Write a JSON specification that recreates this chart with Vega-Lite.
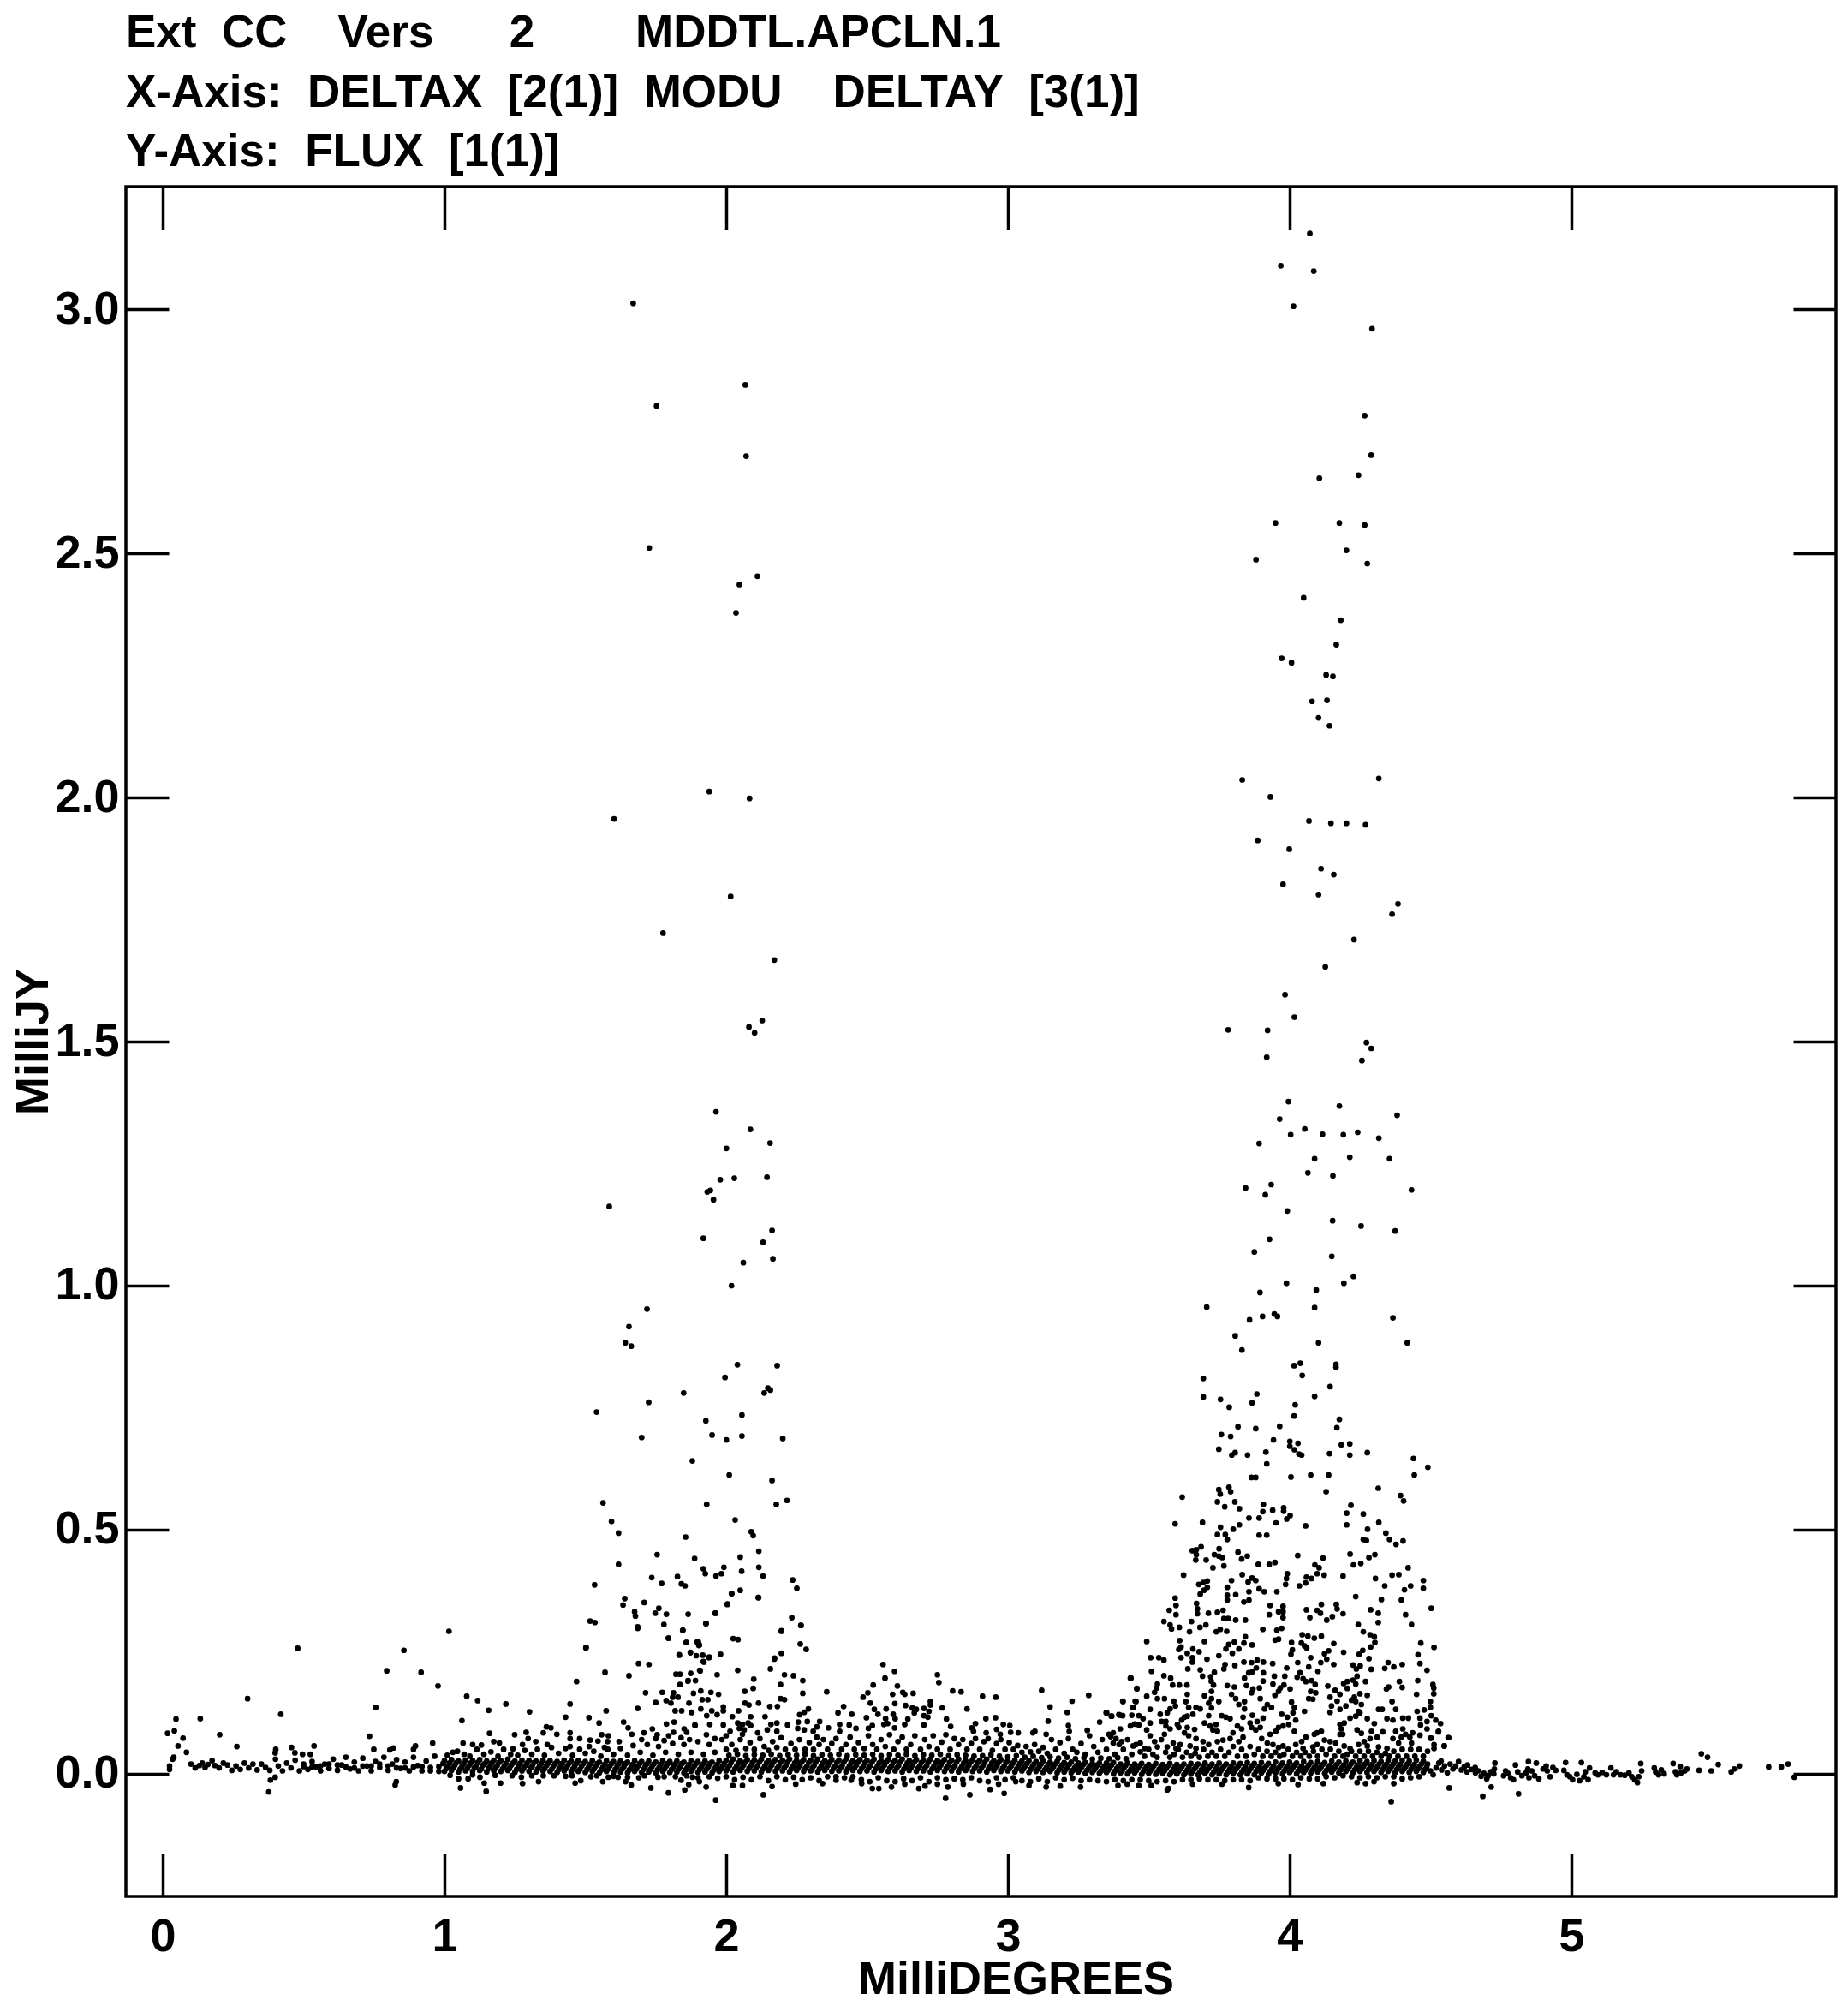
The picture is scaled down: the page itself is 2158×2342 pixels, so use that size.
{"$schema":"https://vega.github.io/schema/vega-lite/v6.json","autosize":"none","padding":{"left":147,"top":218,"right":14,"bottom":128},"width":1997,"height":1996,"background":"white","config":{"view":{"stroke":"black","strokeWidth":3.5},"font":"Liberation Sans"},"title":{"text":["Ext\u00a0\u00a0CC\u00a0\u00a0\u00a0\u00a0Vers\u00a0\u00a0\u00a0\u00a0\u00a0\u00a02\u00a0\u00a0\u00a0\u00a0\u00a0\u00a0\u00a0\u00a0MDDTL.APCLN.1","X-Axis:\u00a0\u00a0DELTAX\u00a0\u00a0[2(1)]\u00a0\u00a0MODU\u00a0\u00a0\u00a0\u00a0DELTAY\u00a0\u00a0[3(1)]","Y-Axis:\u00a0\u00a0FLUX\u00a0\u00a0[1(1)]"],"anchor":"start","frame":"group","font":"Liberation Sans","fontWeight":"bold","fontSize":53,"lineHeight":69.5,"color":"black","offset":-31,"baseline":"alphabetic"},"layer":[{"data":{"name":"pts","values":[
{"x":1.67,"y":3.012},{"x":2.068,"y":2.845},{"x":1.753,"y":2.802},{"x":2.071,"y":2.699},{"x":1.727,"y":2.511},{"x":2.111,"y":2.453},{"x":2.047,"y":2.436},{"x":2.035,"y":2.378},{"x":1.94,"y":2.012},{"x":2.083,"y":1.998},{"x":1.602,"y":1.956},{"x":2.016,"y":1.797},{"x":1.776,"y":1.722},{"x":2.171,"y":1.667},
{"x":2.128,"y":1.543},{"x":2.081,"y":1.53},{"x":2.101,"y":1.518},{"x":1.964,"y":1.356},{"x":2.086,"y":1.32},{"x":2.156,"y":1.292},{"x":2.001,"y":1.281},{"x":1.979,"y":1.217},{"x":2.029,"y":1.22},{"x":2.145,"y":1.222},{"x":1.933,"y":1.192},{"x":1.944,"y":1.195},{"x":1.955,"y":1.176},{"x":1.585,"y":1.162},{"x":1.919,"y":1.097},{"x":2.163,"y":1.113},{"x":2.131,"y":1.089},{"x":2.166,"y":1.055},{"x":2.061,"y":1.047},{"x":2.019,"y":1.0},{"x":1.719,"y":0.952},{"x":1.655,"y":0.916},{"x":1.642,"y":0.883},{"x":1.663,"y":0.876},{"x":2.04,"y":0.838},{"x":2.181,"y":0.836},{"x":1.996,"y":0.812},{"x":1.849,"y":0.78},{"x":1.725,"y":0.761},{"x":2.135,"y":0.78},{"x":2.148,"y":0.79},{"x":2.157,"y":0.786},{"x":1.54,"y":0.741},{"x":1.928,"y":0.723},{"x":2.056,"y":0.735},{"x":1.95,"y":0.694},{"x":2.001,"y":0.684},{"x":2.056,"y":0.692},{"x":1.7,"y":0.689},{"x":2.201,"y":0.687},{"x":1.88,"y":0.641},{"x":2.011,"y":0.612},{"x":2.163,"y":0.601},{"x":1.563,"y":0.555},{"x":1.931,"y":0.552},{"x":2.178,"y":0.552},{"x":2.216,"y":0.56},{"x":1.593,"y":0.517},{"x":2.032,"y":0.52},{"x":1.618,"y":0.493},{"x":2.089,"y":0.496},{"x":2.096,"y":0.488},{"x":1.856,"y":0.485},{"x":1.618,"y":0.429},{"x":1.755,"y":0.449},{"x":1.888,"y":0.441},{"x":2.05,"y":0.444},{"x":2.116,"y":0.456},{"x":2.116,"y":0.423},{"x":1.992,"y":0.423},{"x":1.919,"y":0.42},{"x":1.926,"y":0.41},{"x":1.983,"y":0.41},{"x":1.964,"y":0.405},{"x":2.055,"y":0.415},{"x":2.131,"y":0.405},{"x":1.736,"y":0.402},{"x":1.827,"y":0.404},{"x":1.771,"y":0.39},{"x":1.841,"y":0.389},{"x":1.854,"y":0.385},{"x":1.533,"y":0.387},{"x":2.236,"y":0.397},{"x":2.251,"y":0.38},{"x":2.05,"y":0.376},{"x":2.019,"y":0.369},{"x":2.114,"y":0.361},{"x":1.64,"y":0.359},{"x":1.634,"y":0.346},{"x":1.709,"y":0.351},{"x":2.004,"y":0.347},{"x":1.675,"y":0.332},{"x":1.678,"y":0.323},{"x":1.761,"y":0.339},{"x":1.748,"y":0.329},{"x":1.788,"y":0.327},{"x":1.865,"y":0.327},{"x":1.961,"y":0.329},{"x":2.233,"y":0.32},{"x":1.517,"y":0.313},{"x":1.534,"y":0.31},{"x":1.686,"y":0.301},{"x":1.779,"y":0.306},{"x":1.928,"y":0.308},{"x":2.266,"y":0.304},{"x":1.846,"y":0.294},{"x":2.196,"y":0.292},{"x":1.795,"y":0.278},{"x":2.025,"y":0.277},{"x":2.042,"y":0.275},{"x":1.858,"y":0.269},{"x":1.897,"y":0.27},{"x":1.903,"y":0.263},{"x":2.263,"y":0.266},{"x":2.284,"y":0.255},{"x":1.502,"y":0.258},{"x":1.833,"y":0.244},{"x":1.873,"y":0.248},{"x":1.894,"y":0.242},{"x":1.917,"y":0.243},{"x":1.94,"y":0.239},{"x":1.98,"y":0.245},{"x":2.171,"y":0.235},
{"x":4.072,"y":3.155},{"x":3.969,"y":3.089},{"x":4.086,"y":3.078},{"x":4.014,"y":3.006},{"x":4.293,"y":2.96},{"x":4.267,"y":2.782},{"x":4.29,"y":2.701},{"x":4.245,"y":2.66},{"x":4.106,"y":2.654},{"x":3.95,"y":2.562},{"x":4.177,"y":2.562},{"x":4.267,"y":2.558},{"x":4.202,"y":2.506},{"x":3.881,"y":2.487},{"x":4.276,"y":2.479},{"x":4.05,"y":2.409},{"x":4.182,"y":2.363},{"x":4.166,"y":2.313},{"x":3.972,"y":2.285},{"x":4.007,"y":2.276},{"x":4.13,"y":2.251},{"x":4.154,"y":2.248},{"x":4.08,"y":2.197},{"x":4.133,"y":2.199},{"x":4.103,"y":2.163},{"x":4.142,"y":2.147},{"x":4.317,"y":2.039},{"x":3.832,"y":2.036},{"x":3.932,"y":2.001},{"x":4.069,"y":1.952},{"x":4.147,"y":1.947},{"x":4.202,"y":1.947},{"x":4.27,"y":1.944},
{"x":3.887,"y":1.912},{"x":3.999,"y":1.894},{"x":4.112,"y":1.854},{"x":4.157,"y":1.842},{"x":3.977,"y":1.822},{"x":4.103,"y":1.801},{"x":4.385,"y":1.782},{"x":4.364,"y":1.761},{"x":4.229,"y":1.709},{"x":4.127,"y":1.653},{"x":3.984,"y":1.596},{"x":4.017,"y":1.55},{"x":3.782,"y":1.524},{"x":3.922,"y":1.523},{"x":4.273,"y":1.498},{"x":4.29,"y":1.486},{"x":3.919,"y":1.468},{"x":4.257,"y":1.461},{"x":3.996,"y":1.377},{"x":4.177,"y":1.368},{"x":4.382,"y":1.349},{"x":3.965,"y":1.341},{"x":4.054,"y":1.321},{"x":4.004,"y":1.309},{"x":4.117,"y":1.31},{"x":4.191,"y":1.309},{"x":4.242,"y":1.314},{"x":4.317,"y":1.302},{"x":3.892,"y":1.291},{"x":4.089,"y":1.26},{"x":4.214,"y":1.263},{"x":4.355,"y":1.26},{"x":4.065,"y":1.231},{"x":4.154,"y":1.225},{"x":3.935,"y":1.207},{"x":3.844,"y":1.2},{"x":3.914,"y":1.186},{"x":4.433,"y":1.196},{"x":3.992,"y":1.153},{"x":4.153,"y":1.133},{"x":4.254,"y":1.122},{"x":4.375,"y":1.112},{"x":3.929,"y":1.095},{"x":3.875,"y":1.069},{"x":4.15,"y":1.06},{"x":4.227,"y":1.019},{"x":3.989,"y":1.005},{"x":4.193,"y":1.005},{"x":4.095,"y":0.991},{"x":3.895,"y":0.986},{"x":3.706,"y":0.956},{"x":4.089,"y":0.955},{"x":3.858,"y":0.93},{"x":3.904,"y":0.937},{"x":3.946,"y":0.942},{"x":3.957,"y":0.937},{"x":4.367,"y":0.934},{"x":3.807,"y":0.897},{"x":4.103,"y":0.883},{"x":4.418,"y":0.883},{"x":3.831,"y":0.868},{"x":4.038,"y":0.841},{"x":4.016,"y":0.836},{"x":4.165,"y":0.839},{"x":4.165,"y":0.833},{"x":4.045,"y":0.816},{"x":3.694,"y":0.81},{"x":4.144,"y":0.793},{"x":3.694,"y":0.772},{"x":3.755,"y":0.767},{"x":3.786,"y":0.751},{"x":3.884,"y":0.778},{"x":3.867,"y":0.76},{"x":4.089,"y":0.773},{"x":4.02,"y":0.756},{"x":4.016,"y":0.733},{"x":4.177,"y":0.726},{"x":4.168,"y":0.709},{"x":3.817,"y":0.711},{"x":3.758,"y":0.695},{"x":3.791,"y":0.691},{"x":3.88,"y":0.707},{"x":3.965,"y":0.712},{"x":3.943,"y":0.684},{"x":4.001,"y":0.681},{"x":4.001,"y":0.671},{"x":4.017,"y":0.664},{"x":4.03,"y":0.677},{"x":4.033,"y":0.655},{"x":4.043,"y":0.653},{"x":3.749,"y":0.665},{"x":3.807,"y":0.658},{"x":3.795,"y":0.653},{"x":3.851,"y":0.653},{"x":3.916,"y":0.659},{"x":3.919,"y":0.635},{"x":4.142,"y":0.656},{"x":4.184,"y":0.674},{"x":4.214,"y":0.676},{"x":4.214,"y":0.653},{"x":4.276,"y":0.658},{"x":4.44,"y":0.646},{"x":4.491,"y":0.628},
{"x":3.865,"y":0.607},{"x":3.88,"y":0.607},{"x":4.005,"y":0.608},{"x":4.075,"y":0.612},{"x":4.139,"y":0.612},{"x":4.443,"y":0.612},{"x":4.13,"y":0.578},{"x":4.315,"y":0.585},{"x":4.394,"y":0.57},{"x":4.405,"y":0.559},{"x":3.749,"y":0.582},{"x":3.754,"y":0.573},{"x":3.785,"y":0.587},{"x":3.791,"y":0.578},{"x":3.619,"y":0.567},{"x":3.744,"y":0.557},{"x":3.806,"y":0.557},{"x":3.77,"y":0.547},{"x":3.822,"y":0.543},{"x":3.907,"y":0.552},{"x":3.905,"y":0.537},{"x":3.94,"y":0.54},{"x":3.979,"y":0.545},{"x":3.979,"y":0.538},{"x":4.218,"y":0.55},{"x":4.203,"y":0.534},{"x":4.262,"y":0.532},{"x":3.856,"y":0.524},{"x":3.892,"y":0.524},{"x":4.002,"y":0.529},{"x":3.99,"y":0.522},{"x":3.952,"y":0.514},{"x":4.317,"y":0.515},{"x":3.594,"y":0.512},{"x":3.691,"y":0.515},{"x":4.057,"y":0.508},{"x":4.203,"y":0.51},{"x":3.822,"y":0.51},{"x":3.8,"y":0.501},{"x":3.755,"y":0.505},{"x":4.277,"y":0.501},{"x":3.744,"y":0.49},{"x":3.772,"y":0.49},{"x":3.779,"y":0.48},{"x":3.892,"y":0.489},{"x":3.919,"y":0.489},{"x":4.342,"y":0.493},{"x":4.355,"y":0.48},{"x":4.262,"y":0.48},{"x":4.273,"y":0.478},{"x":4.403,"y":0.477},{"x":4.378,"y":0.47},{"x":3.686,"y":0.465},{"x":3.655,"y":0.457},{"x":3.669,"y":0.459},{"x":3.75,"y":0.461},{"x":3.669,"y":0.449},{"x":3.817,"y":0.454},{"x":3.733,"y":0.449},{"x":3.749,"y":0.446},{"x":3.761,"y":0.443},{"x":3.85,"y":0.446},{"x":3.83,"y":0.44},{"x":4.029,"y":0.447},{"x":4.215,"y":0.45},{"x":4.303,"y":0.449},{"x":4.282,"y":0.443},{"x":4.119,"y":0.442},{"x":3.667,"y":0.438},{"x":3.704,"y":0.438},{"x":3.889,"y":0.429},{"x":3.928,"y":0.429},{"x":3.948,"y":0.433},{"x":4.09,"y":0.428},{"x":4.105,"y":0.422},{"x":4.253,"y":0.431},{"x":4.227,"y":0.428},{"x":3.767,"y":0.426},{"x":3.728,"y":0.422},{"x":4.421,"y":0.422},{"x":3.992,"y":0.41},{"x":3.989,"y":0.4},{"x":3.986,"y":0.388},{"x":3.832,"y":0.408},{"x":3.624,"y":0.407},{"x":4.098,"y":0.41},{"x":4.123,"y":0.407},{"x":4.19,"y":0.405},{"x":4.364,"y":0.407},{"x":4.388,"y":0.408},{"x":4.305,"y":0.4},{"x":4.06,"y":0.403},{"x":4.078,"y":0.4},{"x":4.057,"y":0.391},{"x":4.035,"y":0.385},{"x":3.794,"y":0.396},{"x":3.867,"y":0.401},{"x":3.88,"y":0.396},{"x":3.853,"y":0.393},{"x":3.708,"y":0.395},{"x":3.693,"y":0.392},{"x":3.678,"y":0.388},{"x":4.475,"y":0.396},{"x":4.475,"y":0.38},{"x":3.708,"y":0.382},{"x":3.696,"y":0.376},{"x":3.683,"y":0.368},{"x":3.779,"y":0.382},{"x":4.43,"y":0.385},{"x":4.338,"y":0.385},{"x":4.408,"y":0.377},{"x":3.892,"y":0.379},{"x":3.91,"y":0.373},{"x":3.955,"y":0.373},{"x":3.856,"y":0.373},{"x":3.779,"y":0.366},{"x":3.779,"y":0.356},{"x":3.809,"y":0.367},{"x":3.594,"y":0.36},{"x":4.235,"y":0.363},{"x":4.326,"y":0.357},{"x":4.397,"y":0.356},{"x":3.856,"y":0.356},{"x":3.838,"y":0.352},{"x":3.597,"y":0.345},{"x":3.67,"y":0.349},{"x":3.673,"y":0.338},{"x":3.673,"y":0.328},{"x":3.931,"y":0.345},{"x":3.977,"y":0.343},{"x":3.977,"y":0.332},{"x":3.961,"y":0.332},{"x":4.113,"y":0.347},{"x":4.166,"y":0.347},{"x":4.169,"y":0.338},{"x":4.06,"y":0.336},{"x":4.098,"y":0.335},{"x":4.11,"y":0.329},{"x":4.288,"y":0.336},{"x":4.503,"y":0.339},{"x":3.573,"y":0.335},{"x":3.597,"y":0.326},{"x":3.712,"y":0.329},{"x":3.744,"y":0.331},{"x":3.764,"y":0.335},{"x":3.928,"y":0.326},{"x":3.977,"y":0.32},{"x":4.19,"y":0.328},{"x":4.152,"y":0.322},{"x":4.132,"y":0.315},{"x":4.072,"y":0.32},{"x":4.315,"y":0.329},{"x":4.412,"y":0.326},{"x":3.767,"y":0.318},{"x":3.782,"y":0.318},{"x":3.809,"y":0.315},{"x":3.843,"y":0.315},{"x":3.554,"y":0.312},{"x":3.652,"y":0.312},{"x":4.315,"y":0.31},{"x":3.576,"y":0.305},{"x":3.581,"y":0.297},{"x":3.609,"y":0.3},{"x":3.703,"y":0.305},{"x":3.682,"y":0.3},{"x":4.244,"y":0.306},{"x":4.433,"y":0.306},{"x":3.905,"y":0.296},{"x":3.972,"y":0.298},{"x":3.955,"y":0.294},{"x":3.754,"y":0.296},{"x":3.74,"y":0.291},{"x":3.777,"y":0.292},{"x":3.645,"y":0.291},{"x":4.262,"y":0.291},{"x":4.286,"y":0.285},{"x":4.301,"y":0.281},{"x":4.113,"y":0.282},{"x":4.045,"y":0.285},{"x":4.065,"y":0.282},{"x":4.088,"y":0.278},{"x":3.843,"y":0.281},{"x":3.838,"y":0.268},{"x":3.961,"y":0.276},{"x":3.949,"y":0.274},{"x":3.61,"y":0.273},{"x":3.493,"y":0.271},{"x":3.698,"y":0.271},{"x":4.007,"y":0.269},{"x":4.042,"y":0.268},{"x":4.053,"y":0.262},{"x":4.061,"y":0.258},{"x":4.157,"y":0.267},{"x":4.303,"y":0.269},{"x":4.288,"y":0.26},{"x":4.466,"y":0.268},{"x":4.513,"y":0.259},{"x":3.804,"y":0.27},{"x":3.784,"y":0.265},{"x":3.774,"y":0.256},{"x":3.867,"y":0.264},{"x":3.615,"y":0.26},{"x":3.607,"y":0.255},{"x":3.657,"y":0.256},{"x":3.679,"y":0.25},{"x":3.637,"y":0.247},{"x":3.797,"y":0.247},{"x":3.82,"y":0.256},{"x":4.01,"y":0.254},{"x":4.005,"y":0.245},{"x":4.139,"y":0.252},{"x":4.124,"y":0.246},{"x":4.192,"y":0.249},{"x":4.26,"y":0.253},{"x":4.247,"y":0.245},{"x":4.456,"y":0.244},{"x":3.749,"y":0.242},{"x":3.507,"y":0.238},{"x":3.536,"y":0.238},{"x":3.554,"y":0.233},{"x":3.615,"y":0.238},{"x":3.655,"y":0.238},{"x":3.655,"y":0.229},{"x":3.707,"y":0.235},{"x":4.075,"y":0.238},{"x":4.132,"y":0.235},{"x":4.282,"y":0.236},{"x":3.838,"y":0.229},{"x":3.865,"y":0.228},{"x":3.885,"y":0.233},{"x":3.907,"y":0.229},{"x":3.94,"y":0.226},{"x":4.029,"y":0.228},{"x":4.111,"y":0.228},{"x":4.157,"y":0.224},{"x":4.463,"y":0.226},{"x":4.4,"y":0.224},{"x":4.35,"y":0.228},{"x":4.338,"y":0.216},{"x":4.37,"y":0.219},{"x":4.225,"y":0.223},{"x":4.237,"y":0.215},{"x":4.251,"y":0.221},{"x":3.806,"y":0.222},{"x":3.771,"y":0.224},{"x":3.767,"y":0.215},{"x":3.99,"y":0.217},{"x":4.068,"y":0.219},{"x":4.101,"y":0.21},{"x":3.639,"y":0.215},{"x":3.683,"y":0.213},{"x":3.882,"y":0.217},{"x":3.868,"y":0.209},{"x":3.855,"y":0.207},{"x":4.29,"y":0.214},{"x":4.488,"y":0.212},{"x":3.51,"y":0.21},{"x":3.907,"y":0.207},{"x":3.554,"y":0.201},{"x":3.578,"y":0.196},{"x":3.691,"y":0.2},{"x":3.733,"y":0.208},{"x":3.72,"y":0.199},{"x":3.722,"y":0.19},{"x":3.437,"y":0.196},{"x":3.84,"y":0.196},{"x":3.946,"y":0.2},{"x":3.983,"y":0.2},{"x":4.037,"y":0.207},{"x":4.027,"y":0.198},{"x":4.048,"y":0.195},{"x":4.058,"y":0.189},{"x":3.906,"y":0.19},{"x":4.078,"y":0.191},{"x":4.091,"y":0.183},{"x":4.24,"y":0.2},{"x":4.225,"y":0.192},{"x":4.205,"y":0.189},{"x":4.192,"y":0.185},{"x":4.235,"y":0.184},{"x":4.27,"y":0.189},{"x":4.39,"y":0.189},{"x":4.455,"y":0.191},{"x":3.585,"y":0.182},{"x":3.609,"y":0.182},{"x":3.636,"y":0.182},{"x":3.73,"y":0.182},{"x":3.779,"y":0.181},{"x":3.804,"y":0.178},{"x":3.847,"y":0.181},{"x":3.941,"y":0.184},{"x":3.98,"y":0.182},{"x":3.531,"y":0.184},{"x":3.528,"y":0.176},{"x":4.136,"y":0.18},{"x":4.4,"y":0.177},{"x":4.509,"y":0.183},{"x":4.512,"y":0.176},{"x":4.352,"y":0.178},{"x":4.344,"y":0.174},{"x":3.458,"y":0.175},{"x":3.87,"y":0.174},{"x":3.893,"y":0.176},{"x":3.865,"y":0.166},{"x":4.002,"y":0.174},{"x":3.967,"y":0.176},{"x":3.961,"y":0.169},{"x":3.948,"y":0.161},{"x":4.205,"y":0.175},{"x":3.521,"y":0.167},{"x":3.493,"y":0.159},{"x":3.531,"y":0.154},{"x":3.556,"y":0.154},{"x":3.637,"y":0.163},{"x":3.632,"y":0.148},{"x":3.723,"y":0.169},{"x":3.698,"y":0.16},{"x":3.723,"y":0.154},{"x":3.749,"y":0.148},{"x":3.713,"y":0.145},{"x":3.723,"y":0.135},{"x":3.794,"y":0.163},{"x":3.809,"y":0.154},{"x":3.82,"y":0.142},{"x":3.84,"y":0.148},{"x":3.84,"y":0.133},{"x":3.896,"y":0.154},{"x":4.075,"y":0.169},{"x":4.093,"y":0.166},{"x":4.068,"y":0.154},{"x":4.083,"y":0.153},{"x":4.162,"y":0.171},{"x":4.144,"y":0.157},{"x":4.179,"y":0.163},{"x":4.169,"y":0.149},{"x":4.276,"y":0.161},{"x":4.25,"y":0.164},{"x":4.23,"y":0.157},{"x":4.22,"y":0.151},{"x":4.235,"y":0.148},{"x":4.255,"y":0.142},{"x":4.451,"y":0.163},{"x":4.512,"y":0.164},{"x":3.409,"y":0.148},{"x":3.455,"y":0.148},{"x":3.589,"y":0.149},{"x":3.595,"y":0.139},{"x":3.576,"y":0.133},{"x":3.566,"y":0.125},{"x":4.364,"y":0.148},{"x":4.5,"y":0.148},{"x":4.5,"y":0.136},{"x":4.478,"y":0.131},{"x":4.453,"y":0.128},{"x":3.642,"y":0.136},{"x":3.668,"y":0.136},{"x":3.683,"y":0.133},{"x":3.657,"y":0.122},{"x":3.921,"y":0.142},{"x":3.936,"y":0.136},{"x":3.911,"y":0.133},{"x":4.007,"y":0.147},{"x":4.017,"y":0.136},{"x":4.012,"y":0.125},{"x":4.022,"y":0.11},{"x":4.2,"y":0.139},{"x":4.179,"y":0.132},{"x":4.149,"y":0.139},{"x":4.144,"y":0.126},{"x":4.316,"y":0.132},{"x":4.329,"y":0.132},{"x":4.377,"y":0.132},{"x":3.445,"y":0.136},{"x":3.505,"y":0.132},{"x":4.053,"y":0.128},{"x":3.351,"y":0.125},{"x":3.369,"y":0.118},{"x":3.399,"y":0.12},{"x":3.44,"y":0.12},{"x":3.465,"y":0.119},{"x":3.48,"y":0.113},{"x":3.505,"y":0.104},{"x":3.541,"y":0.122},{"x":3.561,"y":0.107},{"x":3.637,"y":0.118},{"x":3.617,"y":0.11},{"x":3.602,"y":0.101},{"x":3.627,"y":0.116},{"x":3.713,"y":0.119},{"x":3.759,"y":0.119},{"x":3.774,"y":0.116},{"x":3.789,"y":0.113},{"x":3.835,"y":0.116},{"x":3.868,"y":0.12},{"x":3.906,"y":0.114},{"x":3.972,"y":0.122},{"x":3.992,"y":0.116},{"x":3.997,"y":0.101},{"x":4.215,"y":0.114},{"x":4.235,"y":0.118},{"x":4.194,"y":0.104},{"x":4.179,"y":0.101},{"x":4.245,"y":0.128},{"x":4.25,"y":0.125},{"x":4.276,"y":0.113},{"x":4.346,"y":0.113},{"x":4.367,"y":0.11},{"x":4.402,"y":0.114},{"x":4.422,"y":0.114},{"x":4.463,"y":0.114},{"x":4.503,"y":0.119},{"x":4.519,"y":0.11},{"x":4.536,"y":0.103},{"x":4.488,"y":0.107},{"x":3.326,"y":0.106},{"x":3.698,"y":0.104},{"x":3.718,"y":0.098},{"x":3.739,"y":0.101},{"x":3.728,"y":0.09},{"x":3.744,"y":0.087},{"x":3.435,"y":0.098},{"x":3.45,"y":0.102},{"x":3.465,"y":0.1},{"x":3.546,"y":0.107},{"x":3.561,"y":0.098},{"x":3.576,"y":0.092},{"x":3.607,"y":0.095},{"x":3.637,"y":0.095},{"x":3.663,"y":0.091},{"x":3.627,"y":0.084},{"x":3.642,"y":0.078},{"x":3.86,"y":0.104},{"x":3.885,"y":0.107},{"x":3.896,"y":0.095},{"x":3.865,"y":0.095},{"x":3.88,"y":0.09},{"x":3.815,"y":0.098},{"x":3.799,"y":0.084},{"x":3.83,"y":0.092},{"x":3.961,"y":0.095},{"x":3.977,"y":0.098},{"x":3.951,"y":0.087},{"x":4.017,"y":0.087},{"x":4.301,"y":0.103},{"x":4.465,"y":0.1},{"x":4.488,"y":0.092},{"x":4.529,"y":0.087},{"x":4.184,"y":0.092},{"x":4.179,"y":0.081},{"x":4.189,"y":0.081},{"x":4.24,"y":0.09},{"x":4.255,"y":0.083},{"x":4.291,"y":0.087},{"x":4.331,"y":0.086},{"x":4.402,"y":0.092},{"x":4.377,"y":0.087},{"x":4.412,"y":0.081},{"x":4.437,"y":0.084},{"x":4.463,"y":0.079},{"x":3.399,"y":0.092},{"x":3.359,"y":0.081},{"x":3.374,"y":0.084},{"x":3.493,"y":0.09},{"x":3.556,"y":0.081},{"x":4.088,"y":0.081},{"x":4.113,"y":0.087},{"x":4.098,"y":0.084},{"x":3.931,"y":0.081},{"x":4.563,"y":0.074},{"x":4.058,"y":0.075},{"x":4.043,"y":0.066},{"x":4.022,"y":0.06},{"x":4.048,"y":0.052},{"x":3.901,"y":0.072},{"x":3.921,"y":0.063},{"x":3.941,"y":0.06},{"x":3.961,"y":0.054},{"x":3.977,"y":0.057},{"x":3.835,"y":0.075},{"x":3.789,"y":0.072},{"x":3.764,"y":0.069},{"x":3.744,"y":0.066},{"x":3.82,"y":0.066},{"x":3.668,"y":0.072},{"x":3.693,"y":0.066},{"x":3.713,"y":0.06},{"x":3.505,"y":0.078},{"x":3.521,"y":0.066},{"x":3.531,"y":0.055},{"x":3.384,"y":0.072},{"x":3.404,"y":0.066},{"x":3.374,"y":0.063},{"x":3.47,"y":0.063},{"x":4.503,"y":0.073},{"x":4.513,"y":0.06},{"x":4.513,"y":0.052},{"x":4.549,"y":0.057},{"x":4.286,"y":0.072},{"x":4.311,"y":0.075},{"x":4.265,"y":0.066},{"x":4.367,"y":0.072},{"x":4.397,"y":0.075},{"x":4.427,"y":0.075},{"x":4.387,"y":0.063},{"x":4.433,"y":0.063},{"x":4.124,"y":0.069},{"x":4.144,"y":0.066},{"x":4.164,"y":0.063},{"x":4.098,"y":0.06},{"x":4.083,"y":0.055},{"x":4.194,"y":0.057},{"x":4.215,"y":0.052},{"x":4.245,"y":0.06},{"x":4.276,"y":0.057},{"x":4.316,"y":0.055},{"x":4.346,"y":0.052},{"x":3.587,"y":0.063},{"x":3.612,"y":0.06},{"x":3.566,"y":0.055},{"x":3.597,"y":0.052},{"x":3.647,"y":0.057},{"x":3.668,"y":0.052},{"x":3.445,"y":0.057},{"x":3.485,"y":0.052},
{"x":2.02,"y":0.369},{"x":2.115,"y":0.361},{"x":2.005,"y":0.348},{"x":1.963,"y":0.329},{"x":1.929,"y":0.308},{"x":2.265,"y":0.304},{"x":2.196,"y":0.293},{"x":1.873,"y":0.249},{"x":2.196,"y":0.247},{"x":2.172,"y":0.237},{"x":1.939,"y":0.238},{"x":1.919,"y":0.23},{"x":2.157,"y":0.215},{"x":2.041,"y":0.212},{"x":1.906,"y":0.212},{"x":1.874,"y":0.206},{"x":1.968,"y":0.203},{"x":2.207,"y":0.203},{"x":2.239,"y":0.201},{"x":2.098,"y":0.194},{"x":2.272,"y":0.191},{"x":1.865,"y":0.191},{"x":1.891,"y":0.191},{"x":2.193,"y":0.183},{"x":2.096,"y":0.175},{"x":2.066,"y":0.169},{"x":1.91,"y":0.17},{"x":1.946,"y":0.167},{"x":1.973,"y":0.163},{"x":1.884,"y":0.165},{"x":2.272,"y":0.165},{"x":2.357,"y":0.168},{"x":1.915,"y":0.152},{"x":1.935,"y":0.152},{"x":2.193,"y":0.154},{"x":2.207,"y":0.152},{"x":1.868,"y":0.145},{"x":2.067,"y":0.145},{"x":2.081,"y":0.141},{"x":2.115,"y":0.145},{"x":2.155,"y":0.138},{"x":2.182,"y":0.138},{"x":1.99,"y":0.137},{"x":1.99,"y":0.129},{"x":1.91,"y":0.133},{"x":1.949,"y":0.129},{"x":2.044,"y":0.129},{"x":2.292,"y":0.133},{"x":2.277,"y":0.126},{"x":2.261,"y":0.121},{"x":1.877,"y":0.126},{"x":1.931,"y":0.119},{"x":1.968,"y":0.121},{"x":2.022,"y":0.117},{"x":2.087,"y":0.117},{"x":2.138,"y":0.117},{"x":1.889,"y":0.1},{"x":1.942,"y":0.101},{"x":1.99,"y":0.1},{"x":2.014,"y":0.087},{"x":2.041,"y":0.104},{"x":2.058,"y":0.101},{"x":2.078,"y":0.104},{"x":2.047,"y":0.093},{"x":2.064,"y":0.09},{"x":2.087,"y":0.099},{"x":2.058,"y":0.081},{"x":2.112,"y":0.084},{"x":2.18,"y":0.104},{"x":2.159,"y":0.101},{"x":2.146,"y":0.09},{"x":2.18,"y":0.087},{"x":2.218,"y":0.1},{"x":2.256,"y":0.106},{"x":2.288,"y":0.107},{"x":2.332,"y":0.107},{"x":2.322,"y":0.096},{"x":2.254,"y":0.093},{"x":2.277,"y":0.09},{"x":2.309,"y":0.087},{"x":2.322,"y":0.075},{"x":2.363,"y":0.094},{"x":2.403,"y":0.101},{"x":2.403,"y":0.087},{"x":2.437,"y":0.1},{"x":2.461,"y":0.093},{"x":2.397,"y":0.125},{"x":2.417,"y":0.138},{"x":2.446,"y":0.122},{"x":2.498,"y":0.115},{"x":2.486,"y":0.157},{"x":2.503,"y":0.166},{"x":2.512,"y":0.145},{"x":2.522,"y":0.182},{"x":2.557,"y":0.224},{"x":2.598,"y":0.21},{"x":2.564,"y":0.196},{"x":2.608,"y":0.18},{"x":2.591,"y":0.163},{"x":2.627,"y":0.167},{"x":2.634,"y":0.163},{"x":2.664,"y":0.165},{"x":2.599,"y":0.144},{"x":2.637,"y":0.14},{"x":2.568,"y":0.133},{"x":2.526,"y":0.132},{"x":2.75,"y":0.203},{"x":2.755,"y":0.187},{"x":2.804,"y":0.17},{"x":2.834,"y":0.168},{"x":2.725,"y":0.148},{"x":2.725,"y":0.141},{"x":2.767,"y":0.135},{"x":2.855,"y":0.133},{"x":2.661,"y":0.135},{"x":2.675,"y":0.132},{"x":2.702,"y":0.134},{"x":2.72,"y":0.128},{"x":2.668,"y":0.125},{"x":2.702,"y":0.119},{"x":2.716,"y":0.116},{"x":2.539,"y":0.122},{"x":2.593,"y":0.122},{"x":2.6,"y":0.113},{"x":2.566,"y":0.113},{"x":2.56,"y":0.101},{"x":2.573,"y":0.103},{"x":2.598,"y":0.094},{"x":2.519,"y":0.099},{"x":2.505,"y":0.093},{"x":2.634,"y":0.101},{"x":2.645,"y":0.112},{"x":2.702,"y":0.1},{"x":2.782,"y":0.112},{"x":2.797,"y":0.097},{"x":2.91,"y":0.159},{"x":2.957,"y":0.157},{"x":2.922,"y":0.113},{"x":2.956,"y":0.115},{"x":2.984,"y":0.101},{"x":3.007,"y":0.099},{"x":3.01,"y":0.085},{"x":3.037,"y":0.084},{"x":2.885,"y":0.103},{"x":2.872,"y":0.094},{"x":2.878,"y":0.087},{"x":2.923,"y":0.084},{"x":2.96,"y":0.091},{"x":2.973,"y":0.081},{"x":3.12,"y":0.171},{"x":3.15,"y":0.137},{"x":3.287,"y":0.161},{"x":3.228,"y":0.149},{"x":3.211,"y":0.126},{"x":3.143,"y":0.108},{"x":3.215,"y":0.099},{"x":3.218,"y":0.087},{"x":3.136,"y":0.081},{"x":3.089,"y":0.084},{"x":3.096,"y":0.087},{"x":3.282,"y":0.089},{"x":3.349,"y":0.125},{"x":3.367,"y":0.118},{"x":3.394,"y":0.121},{"x":3.408,"y":0.119},{"x":3.408,"y":0.149},{"x":3.444,"y":0.136},{"x":3.452,"y":0.149},{"x":3.458,"y":0.174},{"x":3.435,"y":0.196},
{"x":0.017,"y":0.083},{"x":0.041,"y":0.088},{"x":0.047,"y":0.112},{"x":0.072,"y":0.073},{"x":0.054,"y":0.057},{"x":0.084,"y":0.044},{"x":0.039,"y":0.034},{"x":0.035,"y":0.03},{"x":0.024,"y":0.016},{"x":0.024,"y":0.009},{"x":0.133,"y":0.113},{"x":0.202,"y":0.08},{"x":0.263,"y":0.056},{"x":0.301,"y":0.154},{"x":0.419,"y":0.122},{"x":0.479,"y":0.257},{"x":0.537,"y":0.057},{"x":0.457,"y":0.054},{"x":0.401,"y":0.05},{"x":0.399,"y":0.043},{"x":0.469,"y":0.043},{"x":0.496,"y":0.04},{"x":0.524,"y":0.04},{"x":0.376,"y":-0.037},{"x":0.382,"y":-0.013},{"x":0.399,"y":-0.007},{"x":0.795,"y":0.211},{"x":0.856,"y":0.253},{"x":0.917,"y":0.208},{"x":0.977,"y":0.18},{"x":0.756,"y":0.136},{"x":0.734,"y":0.077},{"x":1.016,"y":0.292},{"x":1.079,"y":0.159},{"x":1.118,"y":0.15},{"x":1.157,"y":0.13},{"x":1.062,"y":0.109},{"x":1.218,"y":0.143},{"x":1.302,"y":0.127},{"x":1.43,"y":0.116},{"x":1.446,"y":0.143},{"x":1.503,"y":0.259},{"x":1.469,"y":0.189},{"x":1.57,"y":0.208},{"x":1.655,"y":0.201},{"x":1.689,"y":0.226},{"x":1.726,"y":0.224},{"x":1.795,"y":0.278},{"x":1.846,"y":0.294},{"x":1.686,"y":0.298},{"x":1.859,"y":0.269},{"x":1.901,"y":0.271},{"x":1.905,"y":0.264},{"x":1.834,"y":0.243},{"x":1.921,"y":0.229},{"x":1.822,"y":0.204},{"x":1.836,"y":0.204},{"x":1.908,"y":0.211},{"x":1.864,"y":0.19},{"x":1.836,"y":0.183},{"x":1.714,"y":0.166},{"x":1.773,"y":0.167},{"x":1.813,"y":0.166},{"x":1.81,"y":0.157},{"x":1.829,"y":0.157},{"x":1.787,"y":0.15},{"x":1.804,"y":0.145},{"x":1.75,"y":0.146},{"x":1.686,"y":0.134},{"x":1.574,"y":0.129},{"x":1.513,"y":0.115},{"x":1.549,"y":0.104},{"x":1.636,"y":0.106},{"x":1.652,"y":0.094},{"x":1.819,"y":0.129},{"x":1.842,"y":0.129},{"x":1.878,"y":0.126},{"x":1.815,"y":0.106},{"x":1.788,"y":0.102},{"x":1.89,"y":0.099},{"x":1.851,"y":0.092},{"x":1.738,"y":0.092},{"x":1.665,"y":0.081},{"x":1.708,"y":0.084},{"x":1.813,"y":0.085},{"x":1.796,"y":0.078},{"x":1.362,"y":0.096},{"x":1.378,"y":0.094},{"x":1.351,"y":0.084},{"x":1.399,"y":0.081},{"x":1.29,"y":0.085},{"x":1.249,"y":0.08},{"x":1.16,"y":0.083},{"x":1.446,"y":0.084},{"x":1.48,"y":0.072},{"x":1.558,"y":0.08},{"x":1.582,"y":0.078},{"x":1.517,"y":0.069},{"x":1.545,"y":0.067},{"x":1.579,"y":0.066},{"x":0.958,"y":0.063},{"x":1.066,"y":0.063},{"x":1.1,"y":0.06},{"x":1.131,"y":0.059},{"x":1.175,"y":0.066},{"x":1.195,"y":0.063},{"x":1.243,"y":0.051},{"x":1.297,"y":0.072},{"x":1.277,"y":0.06},{"x":1.324,"y":0.066},{"x":1.365,"y":0.06},{"x":1.446,"y":0.072},{"x":1.446,"y":0.056},{"x":1.514,"y":0.056},{"x":1.568,"y":0.054},{"x":0.749,"y":0.05},{"x":0.806,"y":0.049},{"x":0.819,"y":0.053},{"x":0.897,"y":0.057},{"x":0.89,"y":0.05},{"x":1.046,"y":0.046},
{"x":1.05,"y":-0.01},{"x":1.084,"y":-0.01},{"x":1.126,"y":-0.007},{"x":1.141,"y":-0.019},{"x":1.057,"y":-0.029},{"x":1.148,"y":-0.036},{"x":1.199,"y":-0.019},{"x":1.273,"y":-0.007},{"x":1.277,"y":-0.02},{"x":1.334,"y":-0.016},{"x":1.351,"y":-0.004},{"x":1.389,"y":-0.004},{"x":1.453,"y":-0.004},{"x":1.464,"y":-0.019},{"x":1.484,"y":-0.014},{"x":0.829,"y":-0.016},{"x":0.825,"y":-0.023},{"x":1.541,"y":-0.004},{"x":1.562,"y":-0.016},{"x":1.582,"y":-0.007},{"x":1.616,"y":-0.007},{"x":1.65,"y":-0.007},{"x":1.663,"y":-0.023},{"x":1.643,"y":-0.016},{"x":1.733,"y":-0.029},{"x":1.795,"y":-0.039},{"x":1.758,"y":-0.007},{"x":1.84,"y":-0.013},{"x":1.853,"y":-0.033},{"x":1.867,"y":-0.022},{"x":1.881,"y":-0.007},{"x":1.905,"y":-0.016},{"x":1.929,"y":-0.027},{"x":1.963,"y":-0.054},{"x":2.132,"y":-0.043},{"x":2.024,"y":-0.024},{"x":2.058,"y":-0.024},{"x":2.163,"y":-0.026},{"x":2.247,"y":-0.021},{"x":2.342,"y":-0.02},{"x":2.39,"y":-0.013},{"x":2.444,"y":-0.013},{"x":2.481,"y":-0.02},{"x":2.519,"y":-0.03},{"x":2.542,"y":-0.03},{"x":2.587,"y":-0.027},{"x":2.634,"y":-0.021},{"x":2.684,"y":-0.03},{"x":2.706,"y":-0.025},{"x":2.75,"y":-0.021},{"x":2.787,"y":-0.027},{"x":2.779,"y":-0.05},{"x":2.865,"y":-0.043},{"x":2.842,"y":-0.021},{"x":2.937,"y":-0.032},{"x":2.987,"y":-0.04},{"x":2.967,"y":-0.021},{"x":3.028,"y":-0.016},{"x":3.075,"y":-0.024},{"x":3.136,"y":-0.027},{"x":3.186,"y":-0.025},{"x":3.258,"y":-0.027},{"x":3.391,"y":-0.024},{"x":3.424,"y":-0.021},{"x":3.465,"y":-0.024},{"x":3.509,"y":-0.024},{"x":3.57,"y":-0.03},{"x":3.566,"y":-0.033},{"x":3.656,"y":-0.021},{"x":3.76,"y":-0.021},{"x":3.855,"y":-0.028},{"x":3.96,"y":-0.02},{"x":4.03,"y":-0.022},{"x":4.12,"y":-0.02},{"x":4.24,"y":-0.018},{"x":4.27,"y":-0.02},{"x":4.3,"y":-0.016},{"x":4.37,"y":-0.02},{"x":4.361,"y":-0.057},
{"x":4.567,"y":-0.029},{"x":4.686,"y":-0.046},{"x":4.813,"y":-0.041},{"x":4.716,"y":-0.027},{"x":4.565,"y":0.074},{"x":4.549,"y":0.057},{"x":4.528,"y":0.086},{"x":4.5,"y":0.073},{"x":4.538,"y":0.026},{"x":4.6,"y":0.025},{"x":4.632,"y":0.018},{"x":4.659,"y":0.013},{"x":4.729,"y":0.022},{"x":4.727,"y":0.01},{"x":4.767,"y":0.006},{"x":4.802,"y":0.018},{"x":4.848,"y":0.025},{"x":4.846,"y":0.01},{"x":4.876,"y":0.022},{"x":4.911,"y":0.016},{"x":4.935,"y":0.013},{"x":4.98,"y":0.023},{"x":4.974,"y":0.007},{"x":5.036,"y":0.023},{"x":5.065,"y":0.012},{"x":5.141,"y":0.012},{"x":5.247,"y":0.021},{"x":5.362,"y":0.021},{"x":5.387,"y":0.015},{"x":5.411,"y":0.01},{"x":5.403,"y":0.006},{"x":5.462,"y":0.041},{"x":5.484,"y":0.034},{"x":5.522,"y":0.019},{"x":5.497,"y":0.006},{"x":5.454,"y":0.007},{"x":5.568,"y":0.004},{"x":5.579,"y":0.01},{"x":5.597,"y":0.016},{"x":5.701,"y":0.014},{"x":5.746,"y":0.014},{"x":5.77,"y":0.02},{"x":5.792,"y":-0.007},
{"x":4.49,"y":0.02},{"x":4.5,"y":0.006},{"x":4.51,"y":-0.002},{"x":4.52,"y":0.012},{"x":4.53,"y":0.022},{"x":4.54,"y":0.008},{"x":4.55,"y":0.016},{"x":4.56,"y":0.002},{"x":4.57,"y":0.02},{"x":4.58,"y":0.01},{"x":4.59,"y":0.016},{"x":4.61,"y":0.008},{"x":4.62,"y":0.014},{"x":4.63,"y":0.004},{"x":4.645,"y":0.009},{"x":4.66,"y":0.002},{"x":4.67,"y":0.006},{"x":4.68,"y":-0.005},{"x":4.69,"y":0.001},{"x":4.7,"y":-0.01},{"x":4.705,"y":-0.004},{"x":4.715,"y":0.004},{"x":4.725,"y":0},{"x":4.76,"y":-0.004},{"x":4.775,"y":0.001},{"x":4.785,"y":-0.008},{"x":4.795,"y":-0.012},{"x":4.81,"y":0.004},{"x":4.825,"y":-0.004},{"x":4.84,"y":0.002},{"x":4.85,"y":-0.008},{"x":4.86,"y":0.006},{"x":4.87,"y":-0.004},{"x":4.885,"y":-0.01},{"x":4.9,"y":0.01},{"x":4.915,"y":0.006},{"x":4.925,"y":-0.006},{"x":4.945,"y":0.007},{"x":4.985,"y":-0.002},{"x":4.995,"y":-0.006},{"x":5.005,"y":-0.012},{"x":5.02,"y":-0.001},{"x":5.03,"y":-0.014},{"x":5.045,"y":-0.006},{"x":5.05,"y":0.004},{"x":5.06,"y":-0.012},{"x":5.085,"y":0.002},{"x":5.095,"y":-0.002},{"x":5.11,"y":0.003},{"x":5.125,"y":-0.002},{"x":5.15,"y":-0.002},{"x":5.16,"y":0.004},{"x":5.175,"y":-0.002},{"x":5.19,"y":-0.003},{"x":5.205,"y":0.002},{"x":5.215,"y":-0.006},{"x":5.225,"y":-0.012},{"x":5.235,"y":-0.018},{"x":5.24,"y":-0.006},{"x":5.25,"y":0.006},{"x":5.295,"y":0.012},{"x":5.3,"y":0.004},{"x":5.31,"y":-0.002},{"x":5.32,"y":0.008},{"x":5.33,"y":0},{"x":5.37,"y":0.004},{"x":5.375,"y":-0.002},{"x":5.39,"y":0.002},
{"x":0.1,"y":0.02},{"x":0.115,"y":0.012},{"x":0.13,"y":0.017},{"x":0.14,"y":0.022},{"x":0.15,"y":0.013},{"x":0.16,"y":0.019},{"x":0.175,"y":0.027},{"x":0.185,"y":0.017},{"x":0.2,"y":0.012},{"x":0.215,"y":0.022},{"x":0.23,"y":0.018},{"x":0.245,"y":0.007},{"x":0.26,"y":0.016},{"x":0.275,"y":0.009},{"x":0.29,"y":0.022},{"x":0.305,"y":0.012},{"x":0.32,"y":0.02},{"x":0.335,"y":0.008},{"x":0.35,"y":0.02},{"x":0.365,"y":0.013},{"x":0.38,"y":0.007},{"x":0.4,"y":0.03},{"x":0.41,"y":0.016},{"x":0.425,"y":0.006},{"x":0.44,"y":0.022},{"x":0.455,"y":0.012},{"x":0.47,"y":0.028},{"x":0.485,"y":0.006},{"x":0.5,"y":0.02},{"x":0.515,"y":0.009},{"x":0.53,"y":0.025},{"x":0.545,"y":0.014},{"x":0.56,"y":0.006},{"x":0.575,"y":0.02},{"x":0.59,"y":0.011},{"x":0.605,"y":0.03},{"x":0.62,"y":0.007},{"x":0.635,"y":0.018},{"x":0.65,"y":0.034},{"x":0.665,"y":0.01},{"x":0.68,"y":0.024},{"x":0.695,"y":0.006},{"x":0.71,"y":0.032},{"x":0.725,"y":0.016},{"x":0.74,"y":0.006},{"x":0.755,"y":0.025},{"x":0.77,"y":0.013},{"x":0.785,"y":0.034},{"x":0.8,"y":0.007},{"x":0.815,"y":0.02},{"x":0.83,"y":0.029},{"x":0.845,"y":0.011},{"x":0.86,"y":0.024},{"x":0.875,"y":0.006},{"x":0.89,"y":0.034},{"x":0.905,"y":0.017},{"x":0.92,"y":0.006},{"x":0.935,"y":0.026},{"x":0.95,"y":0.013},{"x":0.965,"y":0.036},{"x":0.98,"y":0.005},{"x":0.995,"y":0.021},
{"x":0.5,"y":0.015},{"x":0.53,"y":0.014},{"x":0.56,"y":0.016},{"x":0.59,"y":0.02},{"x":0.62,"y":0.018},{"x":0.65,"y":0.014},{"x":0.68,"y":0.012},{"x":0.71,"y":0.016},{"x":0.74,"y":0.016},{"x":0.77,"y":0.02},{"x":0.8,"y":0.016},{"x":0.83,"y":0.012},{"x":0.86,"y":0.012},{"x":0.89,"y":0.014},{"x":0.92,"y":0.015},{"x":0.95,"y":0.006},{"x":0.98,"y":0.015},
{"x":1.0,"y":0.005},{"x":1.025,"y":0.007},{"x":1.05,"y":0.004},{"x":1.075,"y":0.006},{"x":1.1,"y":0.005},{"x":1.125,"y":0.007},{"x":1.15,"y":0.004},{"x":1.175,"y":0.006},{"x":1.2,"y":0.005},{"x":1.225,"y":0.007},{"x":1.25,"y":0.003},{"x":1.275,"y":0.006},{"x":1.3,"y":0.005},{"x":1.325,"y":0.004},{"x":1.35,"y":0.006},{"x":1.375,"y":0.005},{"x":1.4,"y":0.003},{"x":1.425,"y":0.006},{"x":1.45,"y":0.004},{"x":1.475,"y":0.005},{"x":1.5,"y":0.003},{"x":1.525,"y":0.005},{"x":1.55,"y":0.002},{"x":1.575,"y":0.005},{"x":1.6,"y":0.003},{"x":1.625,"y":0.004},{"x":1.65,"y":0.002},{"x":1.675,"y":0.005},{"x":1.7,"y":0.003},{"x":1.725,"y":0.004},{"x":1.75,"y":0.002},{"x":1.775,"y":0.005},{"x":1.8,"y":0.003},{"x":1.825,"y":0.004},{"x":1.85,"y":0.002},{"x":1.875,"y":0.005},{"x":1.9,"y":0.003},{"x":1.925,"y":0.004},{"x":1.95,"y":0.002},{"x":1.975,"y":0.005},
{"x":1.012,"y":0.016},{"x":1.037,"y":0.018},{"x":1.062,"y":0.015},{"x":1.087,"y":0.017},{"x":1.112,"y":0.016},{"x":1.137,"y":0.018},{"x":1.162,"y":0.015},{"x":1.187,"y":0.017},{"x":1.212,"y":0.016},{"x":1.237,"y":0.018},{"x":1.262,"y":0.015},{"x":1.287,"y":0.017},{"x":1.312,"y":0.016},{"x":1.337,"y":0.015},{"x":1.362,"y":0.017},{"x":1.387,"y":0.016},{"x":1.412,"y":0.015},{"x":1.437,"y":0.017},{"x":1.462,"y":0.015},{"x":1.487,"y":0.016},{"x":1.512,"y":0.014},{"x":1.537,"y":0.016},{"x":1.562,"y":0.013},{"x":1.587,"y":0.016},{"x":1.612,"y":0.014},{"x":1.637,"y":0.015},{"x":1.662,"y":0.013},{"x":1.687,"y":0.016},{"x":1.712,"y":0.014},{"x":1.737,"y":0.015},{"x":1.762,"y":0.013},{"x":1.787,"y":0.016},{"x":1.812,"y":0.014},{"x":1.837,"y":0.015},{"x":1.862,"y":0.013},{"x":1.887,"y":0.016},{"x":1.912,"y":0.014},{"x":1.937,"y":0.015},{"x":1.962,"y":0.013},{"x":1.987,"y":0.016},
{"x":1.0,"y":0.027},{"x":1.025,"y":0.029},{"x":1.05,"y":0.026},{"x":1.075,"y":0.028},{"x":1.1,"y":0.027},{"x":1.125,"y":0.029},{"x":1.15,"y":0.026},{"x":1.175,"y":0.028},{"x":1.2,"y":0.027},{"x":1.225,"y":0.03},{"x":1.25,"y":0.026},{"x":1.275,"y":0.028},{"x":1.3,"y":0.027},{"x":1.325,"y":0.026},{"x":1.35,"y":0.028},{"x":1.375,"y":0.027},{"x":1.4,"y":0.025},{"x":1.425,"y":0.028},{"x":1.45,"y":0.026},{"x":1.475,"y":0.027},{"x":1.5,"y":0.025},{"x":1.525,"y":0.027},{"x":1.55,"y":0.024},{"x":1.575,"y":0.027},{"x":1.6,"y":0.025},{"x":1.625,"y":0.026},{"x":1.65,"y":0.024},{"x":1.675,"y":0.027},{"x":1.7,"y":0.025},{"x":1.725,"y":0.026},{"x":1.75,"y":0.024},{"x":1.775,"y":0.027},{"x":1.8,"y":0.025},{"x":1.825,"y":0.026},{"x":1.85,"y":0.024},{"x":1.875,"y":0.027},{"x":1.9,"y":0.025},{"x":1.925,"y":0.026},{"x":1.95,"y":0.024},{"x":1.975,"y":0.027},
{"x":2.0,"y":0.006},{"x":2.025,"y":0.004},{"x":2.05,"y":0.007},{"x":2.075,"y":0.005},{"x":2.1,"y":0.006},{"x":2.125,"y":0.004},{"x":2.15,"y":0.007},{"x":2.175,"y":0.005},{"x":2.2,"y":0.006},{"x":2.225,"y":0.004},{"x":2.25,"y":0.007},{"x":2.275,"y":0.005},{"x":2.3,"y":0.006},{"x":2.325,"y":0.004},{"x":2.35,"y":0.007},{"x":2.375,"y":0.005},{"x":2.4,"y":0.006},{"x":2.425,"y":0.004},{"x":2.45,"y":0.007},{"x":2.475,"y":0.005},{"x":2.5,"y":0.006},{"x":2.525,"y":0.004},{"x":2.55,"y":0.007},{"x":2.575,"y":0.005},{"x":2.6,"y":0.006},{"x":2.625,"y":0.004},{"x":2.65,"y":0.007},{"x":2.675,"y":0.005},{"x":2.7,"y":0.006},{"x":2.725,"y":0.004},{"x":2.75,"y":0.007},{"x":2.775,"y":0.005},{"x":2.8,"y":0.006},{"x":2.825,"y":0.004},{"x":2.85,"y":0.007},{"x":2.875,"y":0.005},{"x":2.9,"y":0.006},{"x":2.925,"y":0.004},{"x":2.95,"y":0.007},{"x":2.975,"y":0.005},{"x":3.0,"y":0.006},{"x":3.025,"y":0.004},{"x":3.05,"y":0.006},{"x":3.075,"y":0.003},{"x":3.1,"y":0.005},{"x":3.125,"y":0.003},{"x":3.15,"y":0.005},{"x":3.175,"y":0.002},{"x":3.2,"y":0.004},{"x":3.225,"y":0.002},{"x":3.25,"y":0.004},{"x":3.275,"y":0.001},{"x":3.3,"y":0.003},{"x":3.325,"y":0.001},{"x":3.35,"y":0.003},{"x":3.375,"y":0},{"x":3.4,"y":0.002},{"x":3.425,"y":0},{"x":3.45,"y":0.002},{"x":3.475,"y":-0.001},{"x":3.5,"y":0.001},{"x":3.525,"y":-0.001},{"x":3.55,"y":0.001},{"x":3.575,"y":-0.002},{"x":3.6,"y":0},{"x":3.625,"y":-0.002},{"x":3.65,"y":0},{"x":3.675,"y":-0.002},{"x":3.7,"y":0.001},{"x":3.725,"y":-0.002},{"x":3.75,"y":0},{"x":3.775,"y":-0.002},{"x":3.8,"y":0.001},{"x":3.825,"y":-0.002},{"x":3.85,"y":0},{"x":3.875,"y":-0.002},{"x":3.9,"y":0.002},{"x":3.925,"y":-0.001},{"x":3.95,"y":0.002},{"x":3.975,"y":0},{"x":4.0,"y":0.003},{"x":4.025,"y":0},{"x":4.05,"y":0.003},{"x":4.075,"y":0.001},{"x":4.1,"y":0.004},{"x":4.125,"y":0.001},{"x":4.15,"y":0.004},{"x":4.175,"y":0.002},{"x":4.2,"y":0.005},{"x":4.225,"y":0.002},{"x":4.25,"y":0.005},{"x":4.275,"y":0.003},{"x":4.3,"y":0.005},{"x":4.325,"y":0.003},{"x":4.35,"y":0.005},{"x":4.375,"y":0.003},{"x":4.4,"y":0.005},{"x":4.425,"y":0.003},{"x":4.45,"y":0.005},{"x":4.475,"y":0.003},
{"x":2.012,"y":0.017},{"x":2.037,"y":0.015},{"x":2.062,"y":0.018},{"x":2.087,"y":0.016},{"x":2.112,"y":0.017},{"x":2.137,"y":0.015},{"x":2.162,"y":0.018},{"x":2.187,"y":0.016},{"x":2.212,"y":0.017},{"x":2.237,"y":0.015},{"x":2.262,"y":0.018},{"x":2.287,"y":0.016},{"x":2.312,"y":0.017},{"x":2.337,"y":0.015},{"x":2.362,"y":0.018},{"x":2.387,"y":0.016},{"x":2.412,"y":0.017},{"x":2.437,"y":0.015},{"x":2.462,"y":0.018},{"x":2.487,"y":0.016},{"x":2.512,"y":0.017},{"x":2.537,"y":0.015},{"x":2.562,"y":0.018},{"x":2.587,"y":0.016},{"x":2.612,"y":0.017},{"x":2.637,"y":0.015},{"x":2.662,"y":0.018},{"x":2.687,"y":0.016},{"x":2.712,"y":0.017},{"x":2.737,"y":0.015},{"x":2.762,"y":0.018},{"x":2.787,"y":0.016},{"x":2.812,"y":0.017},{"x":2.837,"y":0.015},{"x":2.862,"y":0.018},{"x":2.887,"y":0.016},{"x":2.912,"y":0.017},{"x":2.937,"y":0.015},{"x":2.962,"y":0.018},{"x":2.987,"y":0.016},{"x":3.012,"y":0.016},{"x":3.037,"y":0.015},{"x":3.062,"y":0.016},{"x":3.087,"y":0.014},{"x":3.112,"y":0.015},{"x":3.137,"y":0.013},{"x":3.162,"y":0.015},{"x":3.187,"y":0.013},{"x":3.212,"y":0.014},{"x":3.237,"y":0.012},{"x":3.262,"y":0.014},{"x":3.287,"y":0.012},{"x":3.312,"y":0.013},{"x":3.337,"y":0.011},{"x":3.362,"y":0.013},{"x":3.387,"y":0.011},{"x":3.412,"y":0.012},{"x":3.437,"y":0.01},{"x":3.462,"y":0.012},{"x":3.487,"y":0.01},{"x":3.512,"y":0.011},{"x":3.537,"y":0.009},{"x":3.562,"y":0.011},{"x":3.587,"y":0.009},{"x":3.612,"y":0.01},{"x":3.637,"y":0.008},{"x":3.662,"y":0.01},{"x":3.687,"y":0.008},{"x":3.712,"y":0.011},{"x":3.737,"y":0.009},{"x":3.762,"y":0.011},{"x":3.787,"y":0.009},{"x":3.812,"y":0.011},{"x":3.837,"y":0.009},{"x":3.862,"y":0.011},{"x":3.887,"y":0.01},{"x":3.912,"y":0.012},{"x":3.937,"y":0.01},{"x":3.962,"y":0.012},{"x":3.987,"y":0.011},{"x":4.012,"y":0.013},{"x":4.037,"y":0.011},{"x":4.062,"y":0.013},{"x":4.087,"y":0.012},{"x":4.112,"y":0.014},{"x":4.137,"y":0.012},{"x":4.162,"y":0.014},{"x":4.187,"y":0.013},{"x":4.212,"y":0.015},{"x":4.237,"y":0.013},{"x":4.262,"y":0.015},{"x":4.287,"y":0.014},{"x":4.312,"y":0.015},{"x":4.337,"y":0.014},{"x":4.362,"y":0.015},{"x":4.387,"y":0.014},{"x":4.412,"y":0.015},{"x":4.437,"y":0.014},{"x":4.462,"y":0.015},{"x":4.487,"y":0.014},
{"x":2.0,"y":0.028},{"x":2.025,"y":0.03},{"x":2.05,"y":0.027},{"x":2.075,"y":0.029},{"x":2.1,"y":0.028},{"x":2.125,"y":0.03},{"x":2.15,"y":0.027},{"x":2.175,"y":0.029},{"x":2.2,"y":0.028},{"x":2.225,"y":0.03},{"x":2.25,"y":0.027},{"x":2.275,"y":0.029},{"x":2.3,"y":0.028},{"x":2.325,"y":0.03},{"x":2.35,"y":0.027},{"x":2.375,"y":0.029},{"x":2.4,"y":0.028},{"x":2.425,"y":0.03},{"x":2.45,"y":0.027},{"x":2.475,"y":0.029},{"x":2.5,"y":0.028},{"x":2.525,"y":0.03},{"x":2.55,"y":0.027},{"x":2.575,"y":0.029},{"x":2.6,"y":0.028},{"x":2.625,"y":0.03},{"x":2.65,"y":0.027},{"x":2.675,"y":0.029},{"x":2.7,"y":0.028},{"x":2.725,"y":0.03},{"x":2.75,"y":0.027},{"x":2.775,"y":0.029},{"x":2.8,"y":0.028},{"x":2.825,"y":0.03},{"x":2.85,"y":0.027},{"x":2.875,"y":0.029},{"x":2.9,"y":0.028},{"x":2.925,"y":0.03},{"x":2.95,"y":0.027},{"x":2.975,"y":0.029},{"x":3.0,"y":0.027},{"x":3.025,"y":0.028},{"x":3.05,"y":0.026},{"x":3.075,"y":0.027},{"x":3.1,"y":0.025},{"x":3.125,"y":0.026},{"x":3.15,"y":0.024},{"x":3.175,"y":0.025},{"x":3.2,"y":0.023},{"x":3.225,"y":0.024},{"x":3.25,"y":0.022},{"x":3.275,"y":0.023},{"x":3.3,"y":0.021},{"x":3.325,"y":0.022},{"x":3.35,"y":0.022},{"x":3.375,"y":0.023},{"x":3.4,"y":0.02},{"x":3.425,"y":0.022},{"x":3.45,"y":0.02},{"x":3.475,"y":0.021},{"x":3.5,"y":0.019},{"x":3.525,"y":0.021},{"x":3.55,"y":0.019},{"x":3.575,"y":0.021},{"x":3.6,"y":0.019},{"x":3.625,"y":0.02},{"x":3.65,"y":0.021},{"x":3.675,"y":0.02},{"x":3.7,"y":0.022},{"x":3.725,"y":0.02},{"x":3.75,"y":0.022},{"x":3.775,"y":0.02},{"x":3.8,"y":0.022},{"x":3.825,"y":0.021},{"x":3.85,"y":0.023},{"x":3.875,"y":0.021},{"x":3.9,"y":0.023},{"x":3.925,"y":0.021},{"x":3.95,"y":0.024},{"x":3.975,"y":0.022},{"x":4.0,"y":0.024},{"x":4.025,"y":0.022},{"x":4.05,"y":0.025},{"x":4.075,"y":0.023},{"x":4.1,"y":0.025},{"x":4.125,"y":0.023},{"x":4.15,"y":0.026},{"x":4.175,"y":0.024},{"x":4.2,"y":0.026},{"x":4.225,"y":0.024},{"x":4.25,"y":0.027},{"x":4.275,"y":0.025},{"x":4.3,"y":0.027},{"x":4.325,"y":0.025},{"x":4.35,"y":0.027},{"x":4.375,"y":0.026},{"x":4.4,"y":0.028},{"x":4.425,"y":0.026},{"x":4.45,"y":0.028},{"x":4.475,"y":0.026},
{"x":2.01,"y":0.038},{"x":2.04,"y":0.04},{"x":2.07,"y":0.037},{"x":2.1,"y":0.039},{"x":2.13,"y":0.038},{"x":2.16,"y":0.04},{"x":2.19,"y":0.037},{"x":2.22,"y":0.039},{"x":2.25,"y":0.038},{"x":2.28,"y":0.04},{"x":2.31,"y":0.037},{"x":2.34,"y":0.039},{"x":2.37,"y":0.038},{"x":2.4,"y":0.04},{"x":2.43,"y":0.037},{"x":2.46,"y":0.039},{"x":2.49,"y":0.038},{"x":2.52,"y":0.04},{"x":2.55,"y":0.037},{"x":2.58,"y":0.039},{"x":2.61,"y":0.038},{"x":2.64,"y":0.04},{"x":2.67,"y":0.037},{"x":2.7,"y":0.039},{"x":2.73,"y":0.038},{"x":2.76,"y":0.04},{"x":2.79,"y":0.037},{"x":2.82,"y":0.039},{"x":2.85,"y":0.038},{"x":2.88,"y":0.036},{"x":2.91,"y":0.037},{"x":2.94,"y":0.039},{"x":2.97,"y":0.036},{"x":3.0,"y":0.035},{"x":3.03,"y":0.037},{"x":3.06,"y":0.034},{"x":3.09,"y":0.036},{"x":3.12,"y":0.033},{"x":3.15,"y":0.035},{"x":3.18,"y":0.032},{"x":3.21,"y":0.034},{"x":3.24,"y":0.031},{"x":3.27,"y":0.033},{"x":3.3,"y":0.03},{"x":3.33,"y":0.032},{"x":3.36,"y":0.031},{"x":3.39,"y":0.033},{"x":3.42,"y":0.031},
{"x":1.01,"y":0.038},{"x":1.03,"y":0.044},{"x":1.07,"y":0.04},{"x":1.09,"y":0.036},{"x":1.115,"y":0.05},{"x":1.14,"y":0.04},{"x":1.165,"y":0.045},{"x":1.19,"y":0.036},{"x":1.21,"y":0.05},{"x":1.235,"y":0.04},{"x":1.26,"y":0.038},{"x":1.285,"y":0.048},{"x":1.31,"y":0.04},{"x":1.33,"y":0.05},{"x":1.355,"y":0.038},{"x":1.38,"y":0.054},{"x":1.405,"y":0.042},{"x":1.43,"y":0.052},{"x":1.455,"y":0.038},{"x":1.48,"y":0.05},{"x":1.5,"y":0.042},{"x":1.53,"y":0.046},{"x":1.555,"y":0.036},{"x":1.58,"y":0.05},{"x":1.6,"y":0.04},{"x":1.625,"y":0.052},{"x":1.65,"y":0.038},{"x":1.67,"y":0.058},{"x":1.695,"y":0.044},{"x":1.72,"y":0.06},{"x":1.74,"y":0.038},{"x":1.76,"y":0.056},{"x":1.785,"y":0.044},{"x":1.81,"y":0.062},{"x":1.83,"y":0.04},{"x":1.85,"y":0.06},{"x":1.875,"y":0.044},{"x":1.9,"y":0.066},{"x":1.92,"y":0.04},{"x":1.94,"y":0.06},{"x":1.96,"y":0.044},{"x":1.985,"y":0.07},
{"x":1.62,"y":0.066},{"x":1.7,"y":0.07},{"x":1.75,"y":0.072},{"x":1.78,"y":0.068},{"x":1.84,"y":0.074},{"x":1.87,"y":0.07},{"x":1.93,"y":0.08},{"x":1.96,"y":0.072},{"x":2.0,"y":0.078},{"x":1.86,"y":0.085},{"x":1.755,"y":0.08},
{"x":2.0,"y":0.05},{"x":2.02,"y":0.06},{"x":2.035,"y":0.048},{"x":2.05,"y":0.07},{"x":2.07,"y":0.052},{"x":2.085,"y":0.064},{"x":2.1,"y":0.05},{"x":2.12,"y":0.072},{"x":2.135,"y":0.056},{"x":2.15,"y":0.048},{"x":2.165,"y":0.066},{"x":2.18,"y":0.054},{"x":2.195,"y":0.074},{"x":2.21,"y":0.05},{"x":2.23,"y":0.062},{"x":2.245,"y":0.05},{"x":2.26,"y":0.07},{"x":2.28,"y":0.05},{"x":2.295,"y":0.064},{"x":2.31,"y":0.05},{"x":2.33,"y":0.06},{"x":2.345,"y":0.07},{"x":2.36,"y":0.05},{"x":2.375,"y":0.062},{"x":2.39,"y":0.072},{"x":2.41,"y":0.05},{"x":2.425,"y":0.06},{"x":2.44,"y":0.075},{"x":2.455,"y":0.05},{"x":2.47,"y":0.064},{"x":2.49,"y":0.052},{"x":2.505,"y":0.078},{"x":2.52,"y":0.06},{"x":2.535,"y":0.05},{"x":2.55,"y":0.07},{"x":2.565,"y":0.056},{"x":2.58,"y":0.08},{"x":2.595,"y":0.05},{"x":2.61,"y":0.066},{"x":2.625,"y":0.075},{"x":2.64,"y":0.05},{"x":2.655,"y":0.06},{"x":2.67,"y":0.078},{"x":2.69,"y":0.05},{"x":2.705,"y":0.07},{"x":2.72,"y":0.056},{"x":2.735,"y":0.078},{"x":2.75,"y":0.05},{"x":2.765,"y":0.065},{"x":2.78,"y":0.08},{"x":2.795,"y":0.05},{"x":2.81,"y":0.072},{"x":2.825,"y":0.06},{"x":2.84,"y":0.07},{"x":2.855,"y":0.05},{"x":2.87,"y":0.062},{"x":2.885,"y":0.072},{"x":2.9,"y":0.05},{"x":2.915,"y":0.066},{"x":2.93,"y":0.072},{"x":2.945,"y":0.048},{"x":2.96,"y":0.062},{"x":2.975,"y":0.07},{"x":2.99,"y":0.05},{"x":3.005,"y":0.064},{"x":3.02,"y":0.05},{"x":3.035,"y":0.058},{"x":3.05,"y":0.044},{"x":3.065,"y":0.056},{"x":3.08,"y":0.045},{"x":3.095,"y":0.06},{"x":3.11,"y":0.046},{"x":3.125,"y":0.054},{"x":3.14,"y":0.042},{"x":3.155,"y":0.07},{"x":3.17,"y":0.05},{"x":3.185,"y":0.064},{"x":3.2,"y":0.042},{"x":3.215,"y":0.072},{"x":3.23,"y":0.05},{"x":3.245,"y":0.044},{"x":3.26,"y":0.062},{"x":3.275,"y":0.04},{"x":3.29,"y":0.078},{"x":3.305,"y":0.056},{"x":3.32,"y":0.044},{"x":3.335,"y":0.07},{"x":3.35,"y":0.05},{"x":3.365,"y":0.076},{"x":3.38,"y":0.04},{"x":3.395,"y":0.06},{"x":3.41,"y":0.05},{"x":3.425,"y":0.07},{"x":3.44,"y":0.04},{"x":3.455,"y":0.06},{"x":3.47,"y":0.045},{"x":3.485,"y":0.036},{"x":3.5,"y":0.05},{"x":3.515,"y":0.04},{"x":3.53,"y":0.034},{"x":3.545,"y":0.07},{"x":3.56,"y":0.044},{"x":3.575,"y":0.034},{"x":3.59,"y":0.04},{"x":3.605,"y":0.05},{"x":3.62,"y":0.034},{"x":3.635,"y":0.044},{"x":3.65,"y":0.036},{"x":3.665,"y":0.042},{"x":3.68,"y":0.034},{"x":3.695,"y":0.05},{"x":3.71,"y":0.036},{"x":3.725,"y":0.044},{"x":3.74,"y":0.036},{"x":3.755,"y":0.05},{"x":3.77,"y":0.036},{"x":3.785,"y":0.044},{"x":3.8,"y":0.056},{"x":3.815,"y":0.036},{"x":3.83,"y":0.05},{"x":3.845,"y":0.036},{"x":3.86,"y":0.056},{"x":3.875,"y":0.04},{"x":3.89,"y":0.05},{"x":3.905,"y":0.036},{"x":3.92,"y":0.046},{"x":3.935,"y":0.036},{"x":3.95,"y":0.044},{"x":3.965,"y":0.036},{"x":3.98,"y":0.04},{"x":3.995,"y":0.05},{"x":4.01,"y":0.036},{"x":4.025,"y":0.044},{"x":4.04,"y":0.036},{"x":4.055,"y":0.044},{"x":4.07,"y":0.036},{"x":4.085,"y":0.046},{"x":4.1,"y":0.036},{"x":4.115,"y":0.05},{"x":4.13,"y":0.04},{"x":4.145,"y":0.05},{"x":4.16,"y":0.036},{"x":4.175,"y":0.046},{"x":4.19,"y":0.036},{"x":4.205,"y":0.04},{"x":4.22,"y":0.046},{"x":4.235,"y":0.036},{"x":4.25,"y":0.046},{"x":4.265,"y":0.036},{"x":4.28,"y":0.046},{"x":4.295,"y":0.036},{"x":4.31,"y":0.044},{"x":4.325,"y":0.036},{"x":4.34,"y":0.042},{"x":4.355,"y":0.036},{"x":4.37,"y":0.046},{"x":4.385,"y":0.036},{"x":4.4,"y":0.05},{"x":4.415,"y":0.036},{"x":4.43,"y":0.05},{"x":4.445,"y":0.036},{"x":4.46,"y":0.05},{"x":4.475,"y":0.036},{"x":4.49,"y":0.046},
{"x":1.02,"y":-0.003},{"x":1.1,"y":-0.002},{"x":1.18,"y":-0.003},{"x":1.24,"y":-0.004},{"x":1.31,"y":-0.004},{"x":1.43,"y":-0.005},{"x":1.52,"y":-0.006},{"x":1.6,"y":-0.005},{"x":1.69,"y":-0.008},{"x":1.71,"y":-0.004},{"x":1.78,"y":-0.006},{"x":1.82,"y":-0.006},{"x":1.86,"y":-0.004},{"x":1.9,"y":-0.008},{"x":1.94,"y":-0.006},{"x":1.97,"y":-0.009},{"x":2.0,"y":-0.006},{"x":2.03,"y":-0.012},{"x":2.06,"y":-0.007},{"x":2.09,"y":-0.012},{"x":2.12,"y":-0.006},{"x":2.15,"y":-0.014},{"x":2.18,"y":-0.006},{"x":2.21,"y":-0.012},{"x":2.24,"y":-0.007},{"x":2.27,"y":-0.012},{"x":2.3,"y":-0.008},{"x":2.33,"y":-0.014},{"x":2.36,"y":-0.006},{"x":2.39,"y":-0.006},{"x":2.42,"y":-0.008},{"x":2.45,"y":-0.006},{"x":2.48,"y":-0.012},{"x":2.51,"y":-0.016},{"x":2.54,"y":-0.008},{"x":2.57,"y":-0.014},{"x":2.6,"y":-0.016},{"x":2.63,"y":-0.01},{"x":2.66,"y":-0.014},{"x":2.69,"y":-0.008},{"x":2.72,"y":-0.016},{"x":2.75,"y":-0.008},{"x":2.78,"y":-0.012},{"x":2.81,"y":-0.01},{"x":2.84,"y":-0.012},{"x":2.87,"y":-0.008},{"x":2.9,"y":-0.014},{"x":2.93,"y":-0.016},{"x":2.96,"y":-0.008},{"x":2.99,"y":-0.012},{"x":3.02,"y":-0.008},{"x":3.05,"y":-0.014},{"x":3.08,"y":-0.016},{"x":3.11,"y":-0.01},{"x":3.14,"y":-0.016},{"x":3.17,"y":-0.008},{"x":3.2,"y":-0.012},{"x":3.23,"y":-0.009},{"x":3.26,"y":-0.014},{"x":3.29,"y":-0.012},{"x":3.32,"y":-0.014},{"x":3.35,"y":-0.016},{"x":3.38,"y":-0.012},{"x":3.41,"y":-0.014},{"x":3.44,"y":-0.012},{"x":3.47,"y":-0.012},{"x":3.5,"y":-0.014},{"x":3.53,"y":-0.016},{"x":3.56,"y":-0.014},{"x":3.59,"y":-0.016},{"x":3.62,"y":-0.012},{"x":3.65,"y":-0.012},{"x":3.68,"y":-0.01},{"x":3.71,"y":-0.012},{"x":3.74,"y":-0.012},{"x":3.77,"y":-0.014},{"x":3.8,"y":-0.012},{"x":3.83,"y":-0.012},{"x":3.86,"y":-0.014},{"x":3.89,"y":-0.008},{"x":3.92,"y":-0.01},{"x":3.95,"y":-0.01},{"x":3.98,"y":-0.01},{"x":4.01,"y":-0.012},{"x":4.04,"y":-0.008},{"x":4.07,"y":-0.01},{"x":4.1,"y":-0.01},{"x":4.13,"y":-0.006},{"x":4.16,"y":-0.008},{"x":4.19,"y":-0.004},{"x":4.22,"y":-0.006},{"x":4.25,"y":-0.008},{"x":4.28,"y":-0.006},{"x":4.31,"y":-0.008},{"x":4.34,"y":-0.006},{"x":4.37,"y":-0.006},{"x":4.4,"y":-0.01},{"x":4.43,"y":-0.008},{"x":4.46,"y":-0.006},
{"x":1.006,"y":0.011},{"x":1.031,"y":0.012},{"x":1.056,"y":0.01},{"x":1.081,"y":0.011},{"x":1.106,"y":0.012},{"x":1.131,"y":0.01},{"x":1.156,"y":0.011},{"x":1.181,"y":0.012},{"x":1.206,"y":0.01},{"x":1.231,"y":0.011},{"x":1.256,"y":0.009},{"x":1.281,"y":0.011},{"x":1.306,"y":0.012},{"x":1.331,"y":0.01},{"x":1.356,"y":0.011},{"x":1.381,"y":0.01},{"x":1.406,"y":0.009},{"x":1.431,"y":0.011},{"x":1.456,"y":0.01},{"x":1.481,"y":0.009},{"x":1.506,"y":0.009},{"x":1.531,"y":0.01},{"x":1.556,"y":0.008},{"x":1.581,"y":0.01},{"x":1.606,"y":0.009},{"x":1.631,"y":0.01},{"x":1.656,"y":0.008},{"x":1.681,"y":0.01},{"x":1.706,"y":0.009},{"x":1.731,"y":0.009},{"x":1.756,"y":0.008},{"x":1.781,"y":0.01},{"x":1.806,"y":0.009},{"x":1.831,"y":0.01},{"x":1.856,"y":0.008},{"x":1.881,"y":0.01},{"x":1.906,"y":0.009},{"x":1.931,"y":0.01},{"x":1.956,"y":0.008},{"x":1.981,"y":0.01},{"x":2.006,"y":0.011},{"x":2.031,"y":0.01},{"x":2.056,"y":0.012},{"x":2.081,"y":0.011},{"x":2.106,"y":0.012},{"x":2.131,"y":0.01},{"x":2.156,"y":0.012},{"x":2.181,"y":0.011},{"x":2.206,"y":0.012},{"x":2.231,"y":0.01},{"x":2.256,"y":0.012},{"x":2.281,"y":0.011},{"x":2.306,"y":0.012},{"x":2.331,"y":0.01},{"x":2.356,"y":0.012},{"x":2.381,"y":0.011},{"x":2.406,"y":0.012},{"x":2.431,"y":0.01},{"x":2.456,"y":0.012},{"x":2.481,"y":0.011},{"x":2.506,"y":0.012},{"x":2.531,"y":0.01},{"x":2.556,"y":0.012},{"x":2.581,"y":0.011},{"x":2.606,"y":0.012},{"x":2.631,"y":0.01},{"x":2.656,"y":0.012},{"x":2.681,"y":0.011},{"x":2.706,"y":0.012},{"x":2.731,"y":0.01},{"x":2.756,"y":0.012},{"x":2.781,"y":0.011},{"x":2.806,"y":0.012},{"x":2.831,"y":0.01},{"x":2.856,"y":0.012},{"x":2.881,"y":0.011},{"x":2.906,"y":0.012},{"x":2.931,"y":0.01},{"x":2.956,"y":0.012},{"x":2.981,"y":0.011},{"x":3.006,"y":0.011},{"x":3.031,"y":0.01},{"x":3.056,"y":0.011},{"x":3.081,"y":0.009},{"x":3.106,"y":0.01},{"x":3.131,"y":0.008},{"x":3.156,"y":0.01},{"x":3.181,"y":0.008},{"x":3.206,"y":0.009},{"x":3.231,"y":0.007},{"x":3.256,"y":0.009},{"x":3.281,"y":0.007},{"x":3.306,"y":0.008},{"x":3.331,"y":0.006},{"x":3.356,"y":0.008},{"x":3.381,"y":0.006},{"x":3.406,"y":0.007},{"x":3.431,"y":0.005},{"x":3.456,"y":0.007},{"x":3.481,"y":0.005},{"x":3.506,"y":0.006},{"x":3.531,"y":0.004},{"x":3.556,"y":0.006},{"x":3.581,"y":0.004},{"x":3.606,"y":0.005},{"x":3.631,"y":0.003},{"x":3.656,"y":0.005},{"x":3.681,"y":0.003},{"x":3.706,"y":0.006},{"x":3.731,"y":0.004},{"x":3.756,"y":0.006},{"x":3.781,"y":0.004},{"x":3.806,"y":0.006},{"x":3.831,"y":0.004},{"x":3.856,"y":0.006},{"x":3.881,"y":0.005},{"x":3.906,"y":0.007},{"x":3.931,"y":0.005},{"x":3.956,"y":0.007},{"x":3.981,"y":0.006},{"x":4.006,"y":0.008},{"x":4.031,"y":0.006},{"x":4.056,"y":0.008},{"x":4.081,"y":0.007},{"x":4.106,"y":0.009},{"x":4.131,"y":0.007},{"x":4.156,"y":0.009},{"x":4.181,"y":0.008},{"x":4.206,"y":0.01},{"x":4.231,"y":0.008},{"x":4.256,"y":0.01},{"x":4.281,"y":0.009},{"x":4.306,"y":0.01},{"x":4.331,"y":0.009},{"x":4.356,"y":0.01},{"x":4.381,"y":0.009},{"x":4.406,"y":0.01},{"x":4.431,"y":0.009},{"x":4.456,"y":0.01},{"x":4.481,"y":0.009},
{"x":1.018,"y":0.022},{"x":1.043,"y":0.023},{"x":1.068,"y":0.021},{"x":1.093,"y":0.022},{"x":1.118,"y":0.023},{"x":1.143,"y":0.021},{"x":1.168,"y":0.022},{"x":1.193,"y":0.023},{"x":1.218,"y":0.021},{"x":1.243,"y":0.022},{"x":1.268,"y":0.021},{"x":1.293,"y":0.022},{"x":1.318,"y":0.023},{"x":1.343,"y":0.021},{"x":1.368,"y":0.022},{"x":1.393,"y":0.021},{"x":1.418,"y":0.021},{"x":1.443,"y":0.022},{"x":1.468,"y":0.021},{"x":1.493,"y":0.021},{"x":1.518,"y":0.02},{"x":1.543,"y":0.021},{"x":1.568,"y":0.019},{"x":1.593,"y":0.021},{"x":1.618,"y":0.02},{"x":1.643,"y":0.021},{"x":1.668,"y":0.019},{"x":1.693,"y":0.021},{"x":1.718,"y":0.02},{"x":1.743,"y":0.02},{"x":1.768,"y":0.019},{"x":1.793,"y":0.021},{"x":1.818,"y":0.02},{"x":1.843,"y":0.021},{"x":1.868,"y":0.019},{"x":1.893,"y":0.021},{"x":1.918,"y":0.02},{"x":1.943,"y":0.021},{"x":1.968,"y":0.019},{"x":1.993,"y":0.021},{"x":2.018,"y":0.023},{"x":2.043,"y":0.022},{"x":2.068,"y":0.024},{"x":2.093,"y":0.023},{"x":2.118,"y":0.024},{"x":2.143,"y":0.022},{"x":2.168,"y":0.024},{"x":2.193,"y":0.023},{"x":2.218,"y":0.024},{"x":2.243,"y":0.022},{"x":2.268,"y":0.024},{"x":2.293,"y":0.023},{"x":2.318,"y":0.024},{"x":2.343,"y":0.022},{"x":2.368,"y":0.024},{"x":2.393,"y":0.023},{"x":2.418,"y":0.024},{"x":2.443,"y":0.022},{"x":2.468,"y":0.024},{"x":2.493,"y":0.023},{"x":2.518,"y":0.024},{"x":2.543,"y":0.022},{"x":2.568,"y":0.024},{"x":2.593,"y":0.023},{"x":2.618,"y":0.024},{"x":2.643,"y":0.022},{"x":2.668,"y":0.024},{"x":2.693,"y":0.023},{"x":2.718,"y":0.024},{"x":2.743,"y":0.022},{"x":2.768,"y":0.024},{"x":2.793,"y":0.023},{"x":2.818,"y":0.024},{"x":2.843,"y":0.022},{"x":2.868,"y":0.024},{"x":2.893,"y":0.023},{"x":2.918,"y":0.024},{"x":2.943,"y":0.022},{"x":2.968,"y":0.024},{"x":2.993,"y":0.023},{"x":3.018,"y":0.022},{"x":3.043,"y":0.021},{"x":3.068,"y":0.021},{"x":3.093,"y":0.02},{"x":3.118,"y":0.02},{"x":3.143,"y":0.019},{"x":3.168,"y":0.02},{"x":3.193,"y":0.018},{"x":3.218,"y":0.019},{"x":3.243,"y":0.017},{"x":3.268,"y":0.019},{"x":3.293,"y":0.017},{"x":3.318,"y":0.018},{"x":3.343,"y":0.016},{"x":3.368,"y":0.018},{"x":3.393,"y":0.016},{"x":3.418,"y":0.017},{"x":3.443,"y":0.015},{"x":3.468,"y":0.017},{"x":3.493,"y":0.015},{"x":3.518,"y":0.016},{"x":3.543,"y":0.014},{"x":3.568,"y":0.016},{"x":3.593,"y":0.014},{"x":3.618,"y":0.015},{"x":3.643,"y":0.014},{"x":3.668,"y":0.015},{"x":3.693,"y":0.014},{"x":3.718,"y":0.016},{"x":3.743,"y":0.014},{"x":3.768,"y":0.016},{"x":3.793,"y":0.014},{"x":3.818,"y":0.016},{"x":3.843,"y":0.015},{"x":3.868,"y":0.017},{"x":3.893,"y":0.015},{"x":3.918,"y":0.017},{"x":3.943,"y":0.016},{"x":3.968,"y":0.017},{"x":3.993,"y":0.016},{"x":4.018,"y":0.018},{"x":4.043,"y":0.016},{"x":4.068,"y":0.018},{"x":4.093,"y":0.017},{"x":4.118,"y":0.019},{"x":4.143,"y":0.017},{"x":4.168,"y":0.019},{"x":4.193,"y":0.018},{"x":4.218,"y":0.02},{"x":4.243,"y":0.018},{"x":4.268,"y":0.02},{"x":4.293,"y":0.019},{"x":4.318,"y":0.02},{"x":4.343,"y":0.019},{"x":4.368,"y":0.02},{"x":4.393,"y":0.019},{"x":4.418,"y":0.02},{"x":4.443,"y":0.019},{"x":4.468,"y":0.02}
]},"mark":{"type":"point","shape":"circle","filled":true,"color":"black","opacity":1,"size":45},"encoding":{"x":{"field":"x","type":"quantitative","scale":{"domain":[-0.131,5.94],"nice":false,"zero":false},"axis":{"orient":"bottom","values":[0,1,2,3,4,5],"format":"d","domain":false,"grid":false,"tickColor":"black","tickWidth":3.5,"tickSize":-50,"labelColor":"black","labelFont":"Liberation Sans","labelFontWeight":"bold","labelFontSize":54,"labelPadding":113,"labelBaseline":"alphabetic","title":"MilliDEGREES","titleColor":"black","titleFont":"Liberation Sans","titleFontWeight":"bold","titleFontSize":54,"titleX":1039,"titleY":113,"titleBaseline":"alphabetic"}},"y":{"field":"y","type":"quantitative","scale":{"domain":[-0.251,3.251],"nice":false,"zero":false},"axis":{"orient":"left","values":[0,0.5,1,1.5,2,2.5,3],"format":".1f","domain":false,"grid":false,"tickColor":"black","tickWidth":3.5,"tickSize":-50,"labelColor":"black","labelFont":"Liberation Sans","labelFontWeight":"bold","labelFontSize":54,"labelPadding":58,"labelBaseline":"middle","title":"MilliJY","titleColor":"black","titleFont":"Liberation Sans","titleFontWeight":"bold","titleFontSize":54,"titleX":-92,"titleBaseline":"alphabetic"}}}},{"data":{"values":[{"x":0,"y":0}]},"mark":{"type":"point","opacity":0},"encoding":{"x":{"field":"x","type":"quantitative","axis":{"orient":"top","values":[0,1,2,3,4,5],"domain":false,"grid":false,"labels":false,"title":null,"tickColor":"black","tickWidth":3.5,"tickSize":-50}},"y":{"field":"y","type":"quantitative","axis":{"orient":"right","values":[0,0.5,1,1.5,2,2.5,3],"domain":false,"grid":false,"labels":false,"title":null,"tickColor":"black","tickWidth":3.5,"tickSize":-50}}}}],"resolve":{"axis":{"x":"independent","y":"independent"}}}
